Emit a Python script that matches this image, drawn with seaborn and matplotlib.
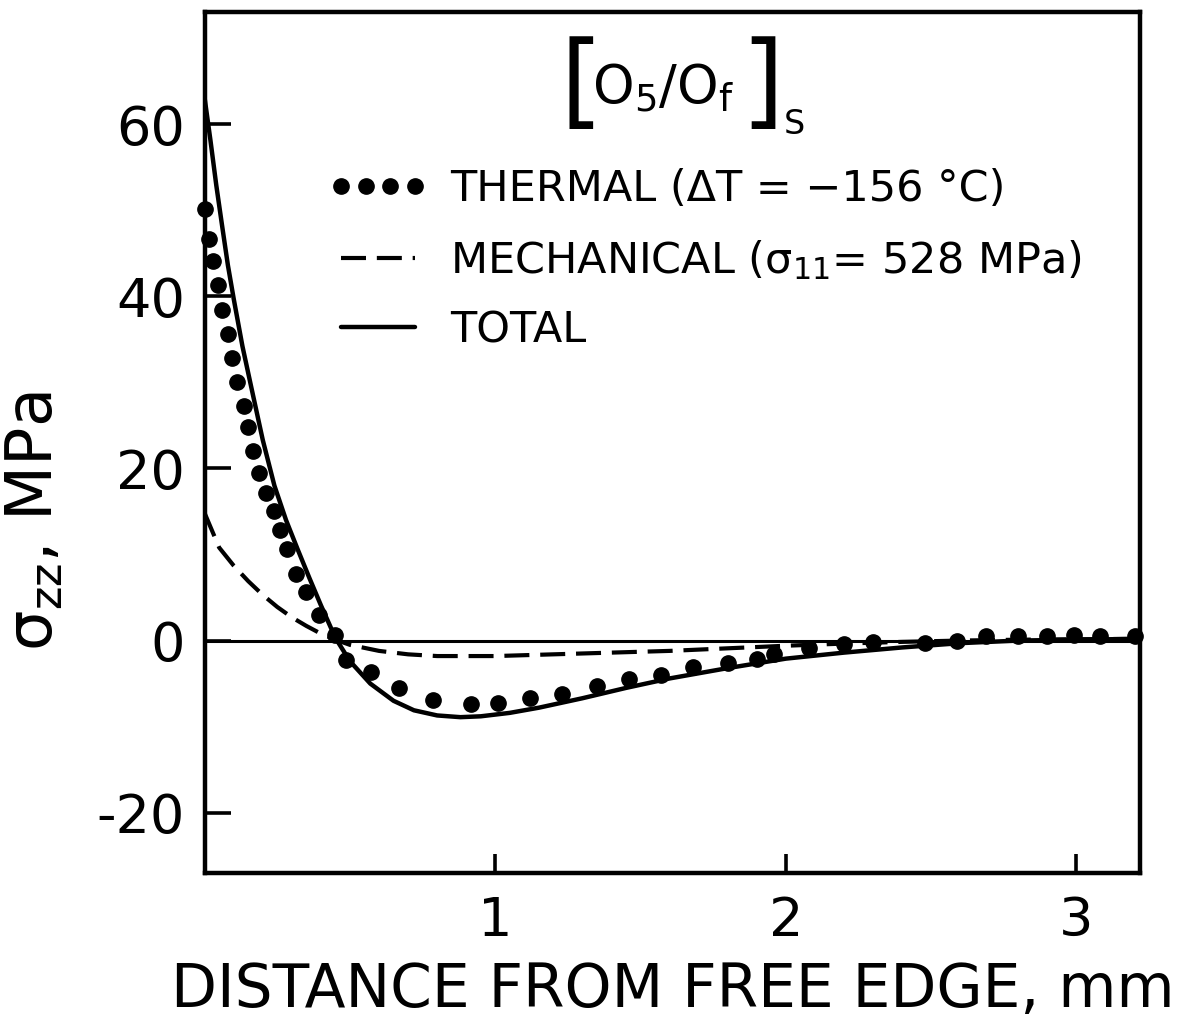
import numpy as np
import pandas as pd
import matplotlib
matplotlib.use("Agg")
import matplotlib.pyplot as plt
import seaborn as sns

# distance from free edge (mm) and sigma_zz (MPa)
thermal_x = [0.0, 0.014, 0.03, 0.045, 0.058, 0.08, 0.093, 0.113, 0.134, 0.148,
             0.168, 0.186, 0.21, 0.237, 0.258, 0.282, 0.316, 0.35, 0.395, 0.447,
             0.488, 0.574, 0.67, 0.787, 0.918, 1.01, 1.12, 1.23, 1.35, 1.46,
             1.57, 1.68, 1.80, 1.90, 1.96, 2.08, 2.2, 2.3, 2.48, 2.59,
             2.69, 2.8, 2.9, 2.99, 3.08, 3.2]
thermal_y = [50.1, 46.7, 44.1, 41.3, 38.4, 35.6, 32.8, 30.0, 27.2, 24.8,
             22.0, 19.5, 17.2, 15.0, 12.9, 10.6, 7.7, 5.6, 3.0, 0.7,
             -2.2, -3.7, -5.5, -6.9, -7.4, -7.2, -6.7, -6.2, -5.3, -4.5,
             -4.0, -3.1, -2.6, -2.1, -1.6, -0.9, -0.4, -0.2, -0.3, 0.0,
             0.5, 0.5, 0.5, 0.6, 0.5, 0.5]

mech_x = [0.0, 0.05, 0.1, 0.15, 0.2, 0.25, 0.3, 0.35, 0.4, 0.45, 0.5, 0.6, 0.7,
          0.8, 0.9, 1.0, 1.2, 1.4, 1.6, 1.8, 2.0, 2.2, 2.4, 2.6, 2.8, 3.0, 3.22]
mech_y = [14.8, 10.8, 8.7, 6.9, 5.3, 3.9, 2.7, 1.7, 0.8, 0.1, -0.5, -1.2, -1.6,
          -1.8, -1.8, -1.8, -1.6, -1.4, -1.2, -0.9, -0.6, -0.35, -0.15, 0.0, 0.1, 0.15, 0.2]

total_x = [0.0, 0.02, 0.04, 0.06, 0.08, 0.1, 0.13, 0.16, 0.2, 0.24, 0.28, 0.32,
           0.36, 0.4, 0.45, 0.5, 0.57, 0.65, 0.72, 0.8, 0.88, 0.95, 1.05, 1.15,
           1.3, 1.45, 1.6, 1.8, 2.0, 2.2, 2.4, 2.6, 2.8, 3.0, 3.22]
total_y = [63, 58.1, 52.9, 48.2, 43.6, 39.7, 34.2, 29.5, 23.3, 18.0, 14.0, 10.6,
           7.3, 4.1, 0.3, -2.4, -5.0, -7.0, -8.1, -8.7, -8.9, -8.8, -8.4, -7.8,
           -6.7, -5.5, -4.4, -3.2, -2.1, -1.4, -0.8, -0.3, 0.0, 0.1, 0.2]

xticks = [1, 2, 3]
yticks = [-20, 0, 20, 40, 60]

sns.set_style("ticks", rc={"axes.edgecolor": "black", "text.color": "black",
                           "axes.labelcolor": "black", "xtick.color": "black",
                           "ytick.color": "black"})
plt.rcParams['font.family'] = ['DejaVu Sans']
plt.rcParams['mathtext.fontset'] = 'dejavusans'

fig = plt.figure(figsize=(11.83, 10.21), dpi=100)
ax = fig.add_axes([0.173, 0.145, 0.791, 0.843])

ax.axhline(0, color="black", lw=2.2, zorder=1)
sns.lineplot(x=mech_x, y=mech_y, ax=ax, color="black", lw=3.0,
             dashes=False, label="MECHANICAL (σ$_{11}$= 528 MPa)")
ax.lines[-1].set_dashes((6, 2.6))
sns.lineplot(x=total_x, y=total_y, ax=ax, color="black", lw=3.2, label="TOTAL")
ax.plot(thermal_x, thermal_y, ls="none", marker="o", ms=11, color="black",
        label="THERMAL (ΔT = −156 °C)", clip_on=False, zorder=3)

ax.set_xlim(0, 3.22)
ax.set_ylim(-27, 73)
ax.set_xticks(xticks)
ax.set_yticks(yticks)
ax.set_xticklabels([str(t) for t in xticks])
ax.set_yticklabels([str(t) for t in yticks])
ax.tick_params(direction="in", length=19, width=2.6, labelsize=39, pad=14)
ax.tick_params(axis="x", length=14, pad=16)
for s in ax.spines.values():
    s.set_linewidth(3.2)

ax.set_xlabel("DISTANCE FROM FREE EDGE, mm", fontsize=43, labelpad=10)
ax.set_ylabel("σ$_\\mathrm{zz}$, MPa", fontsize=46)
ax.yaxis.set_label_coords(-0.149, 0.408)

h, l = ax.get_legend_handles_labels()
order = [2, 0, 1]
ax.legend([h[i] for i in order], [l[i] for i in order], loc="upper left",
          bbox_to_anchor=(0.114, 0.8386), frameon=False, fontsize=31,
          numpoints=4, handlelength=2.3, handletextpad=0.53, labelspacing=0.64,
          borderaxespad=0)

# laminate label [O5/Of]s with tall brackets
bracket_font = dict(fontsize=76, family=["Noto Sans", "DejaVu Sans"], fontweight="light")
ax.text(0.399, 0.917, "[", transform=ax.transAxes, ha="center", va="center",
        **bracket_font)
ax.text(0.600, 0.917, "]", transform=ax.transAxes, ha="center", va="center",
        **bracket_font)
ax.text(0.490, 0.894, r"O$_\mathrm{5}$/O$_\mathrm{f}$", transform=ax.transAxes,
        ha="center", va="baseline", fontsize=38)
ax.text(0.630, 0.870, "S", transform=ax.transAxes, ha="center", va="center",
        fontsize=24)

fig.savefig("out.png", dpi=100)
